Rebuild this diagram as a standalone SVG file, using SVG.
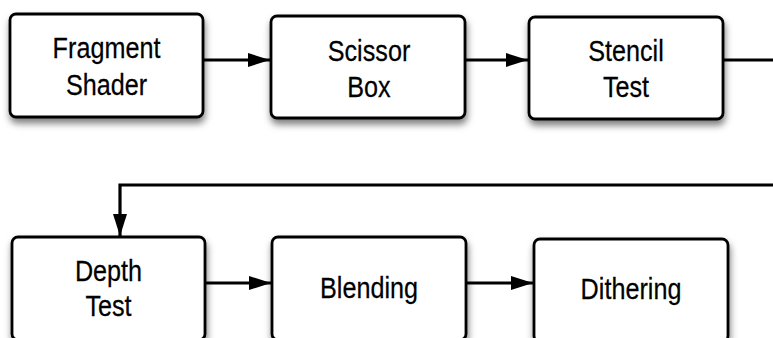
<svg xmlns="http://www.w3.org/2000/svg" width="773" height="338" viewBox="0 0 773 338">
  <style>
    .box { fill: #ffffff; stroke: #000000; stroke-width: 2.8; filter: url(#shadow); }
    .label { font-family: "Liberation Sans", Arial, sans-serif; font-size: 30px; fill: #000000; stroke: #000000; stroke-width: 0.25; text-anchor: middle; }
    .wire { fill: none; stroke: #000000; stroke-width: 3.2; }
  </style>
  <defs>
    <filter id="shadow" x="-10%" y="-15%" width="125%" height="145%">
      <feDropShadow dx="1" dy="5" stdDeviation="3.5" flood-color="#000000" flood-opacity="0.5"/>
    </filter>
    <marker id="head" viewBox="0 0 22 14" refX="22" refY="7" markerWidth="22" markerHeight="14" markerUnits="userSpaceOnUse" orient="auto">
      <path d="M0,0 L22,7 L0,14 Z" fill="#000000"/>
    </marker>
  </defs>
  <rect width="773" height="338" fill="#ffffff"/>

  <!-- pipeline stages, top row (labels condensed horizontally) -->
  <g id="fragment-shader">
    <rect class="box" x="10" y="14" width="193" height="103" rx="6"/>
    <text class="label" transform="translate(106.5,58) scale(0.84,1)">Fragment</text>
    <text class="label" transform="translate(106.5,95) scale(0.84,1)">Shader</text>
  </g>
  <g id="scissor-box">
    <rect class="box" x="271" y="16" width="194" height="102" rx="6"/>
    <text class="label" transform="translate(369,61) scale(0.84,1)">Scissor</text>
    <text class="label" transform="translate(369,97) scale(0.84,1)">Box</text>
  </g>
  <g id="stencil-test">
    <rect class="box" x="529" y="17" width="194" height="102" rx="6"/>
    <text class="label" transform="translate(626,61) scale(0.84,1)">Stencil</text>
    <text class="label" transform="translate(626,97) scale(0.84,1)">Test</text>
  </g>

  <!-- pipeline stages, bottom row -->
  <g id="depth-test">
    <rect class="box" x="12" y="237" width="193" height="103" rx="6"/>
    <text class="label" transform="translate(108.5,281) scale(0.84,1)">Depth</text>
    <text class="label" transform="translate(108.5,316) scale(0.84,1)">Test</text>
  </g>
  <g id="blending">
    <rect class="box" x="272" y="237" width="194" height="103" rx="6"/>
    <text class="label" transform="translate(369,298) scale(0.84,1)">Blending</text>
  </g>
  <g id="dithering">
    <rect class="box" x="534" y="239" width="194" height="103" rx="6"/>
    <text class="label" transform="translate(631,299) scale(0.84,1)">Dithering</text>
  </g>

  <!-- connectors -->
  <g id="connectors">
    <line class="wire" x1="203" y1="60" x2="270" y2="60" marker-end="url(#head)"/>
    <line class="wire" x1="465" y1="60" x2="528" y2="60" marker-end="url(#head)"/>
    <line class="wire" x1="723" y1="60" x2="775" y2="60"/>
    <polyline class="wire" points="775,185 120,185 120,236" marker-end="url(#head)"/>
    <line class="wire" x1="205" y1="283" x2="271" y2="283" marker-end="url(#head)"/>
    <line class="wire" x1="466" y1="283" x2="533" y2="283" marker-end="url(#head)"/>
  </g>
</svg>
